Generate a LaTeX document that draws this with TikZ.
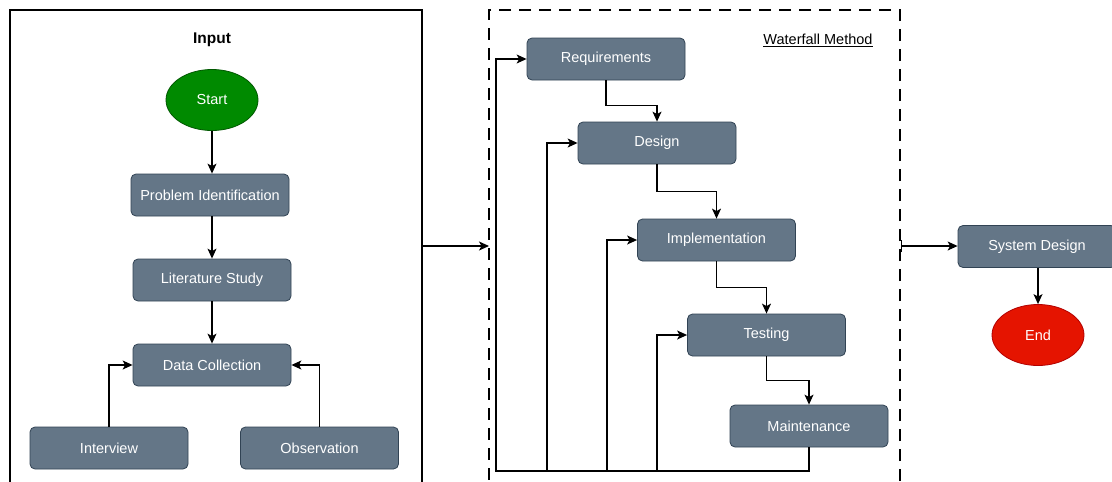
\documentclass[tikz,border=0pt]{standalone}
\usepackage{fontspec}
\setmainfont{Liberation Sans}
\usetikzlibrary{arrows.meta,shapes.geometric}
\definecolor{boxfill}{HTML}{647687}
\definecolor{boxline}{HTML}{314354}
\definecolor{startfill}{HTML}{008A00}
\definecolor{startline}{HTML}{005700}
\definecolor{endfill}{HTML}{E51400}
\definecolor{endline}{HTML}{B20000}
\begin{document}
\begin{tikzpicture}[x=1pt,y=-1pt,
  lbl/.style={font=\fontsize{14.5}{16}\selectfont},
  box/.style={lbl, draw=boxline, fill=boxfill, rounded corners=5pt, minimum width=158pt, minimum height=42pt, text=white, line width=0.8pt, inner sep=0pt},
  oval/.style={lbl, ellipse, minimum width=92pt, minimum height=61pt, text=white, line width=0.8pt, inner sep=0pt},
  conn/.style={line width=1.2pt, -{Stealth[length=10pt,width=9pt,inset=2.5pt]}},
  frameline/.style={line width=1.2pt},
]
\useasboundingbox (0,0) rectangle (1112,482);
\clip (0,0) rectangle (1112,482);
\fill[white] (0,0) rectangle (1112,482);

% frames
\node[frameline, draw, minimum width=412pt, minimum height=500pt, inner sep=0pt] (inframe) at (216,260) {};
\node[frameline, draw, dash pattern=on 12pt off 8pt, minimum width=411pt, minimum height=500pt, inner sep=0pt] (wfframe) at (694.5,260) {};

\node[font=\bfseries\fontsize{15.5}{17}\selectfont] (inputlbl) at (212,40) {Input};
\node[lbl] (wflbl) at (818,40) {\underline{Waterfall Method}};

% input column
\node[oval, draw=startline, fill=startfill] (start) at (212,100) {Start};
\node[box] (pi) at (210,195) {Problem Identification};
\node[box] (ls) at (212,280) {Literature Study};
\node[box] (dc) at (212,365) {Data Collection};
\node[box] (int) at (109,448) {Interview};
\node[box] (obs) at (319.5,448) {Observation};

\draw[conn] (start) -- (start |- pi.north);
\draw[conn] (ls |- pi.south) -- (ls);
\draw[conn] (ls) -- (dc);
\draw[conn] (int.north) |- (dc.west);
\draw[conn] (obs.north) |- (dc.east);

% link between frames
\coordinate (fa) at (422,246);
\coordinate (fb) at (489,246);
\draw[conn] (fa) -- (fb);

% waterfall
\node[box] (req) at (606,59) {Requirements};
\node[box] (des) at (657,143) {Design};
\node[box] (imp) at (716.5,240) {Implementation};
\node[box] (tst) at (766.5,335) {Testing};
\node[box] (mnt) at (809,426) {Maintenance};

\draw[conn] (req.south) -- ++(0,25) -| (des.north);
\draw[conn] (des.south) -- ++(0,27) -| (imp.north);
\draw[conn] (imp.south) -- ++(0,26) -| (tst.north);
\draw[conn] (tst.south) -- ++(0,24) -| (mnt.north);

\coordinate (loopL) at (496,471);
\coordinate (b1) at (547,471);
\coordinate (b2) at (607,471);
\coordinate (b3) at (657,471);
\draw[conn] (mnt.south) |- (loopL) |- (req.west);
\draw[conn] (b1) |- (des.west);
\draw[conn] (b2) |- (imp.west);
\draw[conn] (b3) |- (tst.west);

% output
\node[box] (sd) at (1037,246.5) {System Design};
\node[oval, draw=endline, fill=endfill] (endn) at (1038,335) {End};
\coordinate (ga) at (900.5,246);
\draw[line width=1.2pt, {Bar[width=12pt]}-{Stealth[length=10pt,width=9pt,inset=2.5pt]}] (ga) -- (sd.west |- ga);
\draw[conn] (sd.south -| endn) -- (endn);
\end{tikzpicture}
\end{document}
